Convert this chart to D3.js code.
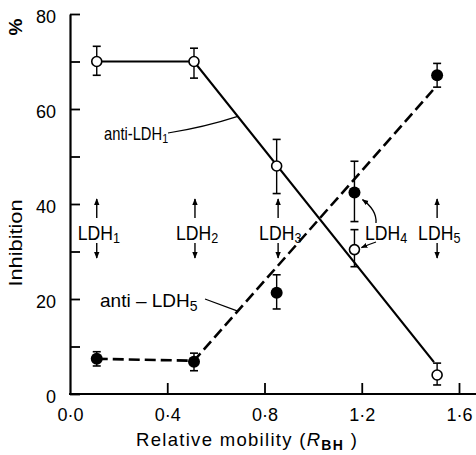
<!DOCTYPE html>
<html><head><meta charset="utf-8">
<script src="https://cdn.jsdelivr.net/npm/d3@7"></script>
<style>
html,body{margin:0;padding:0;background:#fff;}
svg{display:block;}
text{font-family:"Liberation Sans",Arial,Helvetica,sans-serif;fill:#000;}
</style></head>
<body>
<svg id="c" width="476" height="455"></svg>
<script>
// ---- data ----
const mobility = [0.11, 0.51, 0.85, 1.17, 1.51];          // R_BH of LDH1..LDH5
const antiLDH1 = [70, 70, 48, 30.4, 4.0];                 // open circles
const antiLDH1Hi = [73.2, 72.8, 53.6, 34.6, 6.5];
const antiLDH1Lo = [67.1, 66.5, 42.2, 26.8, 1.9];
const antiLDH5 = [7.4, 6.8, 21.3, 42.4, 67.1];            // filled circles
const antiLDH5Hi = [8.9, 8.6, 25.1, 49.0, 69.6];
const antiLDH5Lo = [5.9, 4.9, 17.9, 36.3, 64.6];
const fitLDH1X = [0.11, 0.51, 1.497];
const fitLDH1Y = [70, 70, 6.7];
const fitLDH5X = [0.11, 0.51, 1.493];
const fitLDH5Y = [7.4, 7.0, 64];
const isoNames = ["1", "2", "3", "4", "5"];
const isoArrowX = [0.11, 0.514, 0.856, null, 1.51];
const xTicks = [0, 0.4, 0.8, 1.2, 1.6];
const xTickLabels = ["0·0", "0·4", "0·8", "1·2", "1·6"];
const yTicks = [0, 10, 20, 30, 40, 50, 60, 70, 80];
const yTickLabels = ["0", "", "20", "", "40", "", "60", "", "80"];

const svg = d3.select("#c");
const x = d3.scaleLinear().domain([0, 1.6]).range([70, 459]);
const y = d3.scaleLinear().domain([0, 80]).range([394, 14]);

// axes
const yAxis = d3.axisLeft(y).tickValues(yTicks)
  .tickFormat((d, i) => yTickLabels[i]).tickSize(-10).tickSizeOuter(0).tickPadding(14);
const gy = svg.append("g").attr("transform", "translate(70,0)").call(yAxis);
gy.select(".domain").attr("stroke-width", 2.2);
gy.selectAll(".tick line").attr("stroke-width", 1.8);
gy.selectAll(".tick text").attr("font-size", 18).attr("dy", "0.45em");

const xAxis = d3.axisBottom(x).tickValues(xTicks)
  .tickFormat((d, i) => xTickLabels[i]).tickSize(-11).tickSizeOuter(0).tickPadding(14);
const gx = svg.append("g").attr("transform", "translate(0,394)").call(xAxis);
gx.select(".domain").remove();
gx.selectAll(".tick line").attr("stroke-width", 1.8).filter(d => d === 0).remove();
gx.selectAll(".tick text").attr("font-size", 18);
svg.append("line").attr("x1", x(0) - 1).attr("x2", 476).attr("y1", y(0)).attr("y2", y(0))
  .attr("stroke", "#000").attr("stroke-width", 2.2);

// axis titles
const xt = svg.append("text").attr("x", 136).attr("y", 446).attr("font-size", 18.5)
  .attr("letter-spacing", 1.3);
xt.append("tspan").text("Relative mobility  (");
xt.append("tspan").attr("font-style", "italic").text("R");
xt.append("tspan").attr("font-size", 14).attr("font-weight", "bold").attr("dy", 4).text("BH");
xt.append("tspan").attr("dy", -4).text(" )");

svg.append("text").attr("transform", "translate(22,243) rotate(-90)")
  .attr("text-anchor", "middle").attr("font-size", 19)
  .attr("textLength", 87).attr("lengthAdjust", "spacingAndGlyphs").text("Inhibition");
svg.append("text").attr("transform", "translate(22,27) rotate(-90)")
  .attr("text-anchor", "middle").attr("font-size", 19).attr("font-weight", "bold").text("%");

// fitted lines
const line = d3.line().x(d => x(d[0])).y(d => y(d[1]));
svg.append("path").datum(d3.zip(fitLDH1X, fitLDH1Y)).attr("d", line)
  .attr("fill", "none").attr("stroke", "#000").attr("stroke-width", 2.2);
svg.append("path").datum(d3.zip(fitLDH5X, fitLDH5Y)).attr("d", line)
  .attr("fill", "none").attr("stroke", "#000").attr("stroke-width", 2.6)
  .attr("stroke-dasharray", "11,5");

// error bars
function errBars(vals, hi, lo) {
  const g = svg.append("g").attr("stroke", "#000").attr("stroke-width", 1.4);
  mobility.forEach((m, i) => {
    g.append("line").attr("x1", x(m)).attr("x2", x(m)).attr("y1", y(hi[i])).attr("y2", y(lo[i]));
    [hi[i], lo[i]].forEach(v => g.append("line").attr("x1", x(m) - 4).attr("x2", x(m) + 4)
      .attr("y1", y(v)).attr("y2", y(v)).attr("stroke-width", 1.6));
  });
}
errBars(antiLDH1, antiLDH1Hi, antiLDH1Lo);
errBars(antiLDH5, antiLDH5Hi, antiLDH5Lo);

// points
svg.append("g").selectAll("circle").data(mobility).join("circle")
  .attr("cx", d => x(d)).attr("cy", (d, i) => y(antiLDH1[i])).attr("r", 5)
  .attr("fill", "#fff").attr("stroke", "#000").attr("stroke-width", 1.6);
svg.append("g").selectAll("circle").data(mobility).join("circle")
  .attr("cx", d => x(d)).attr("cy", (d, i) => y(antiLDH5[i])).attr("r", 6)
  .attr("fill", "#000");

// helper: y on a fit line at mobility m (second segment)
function fitAt(fx, fy, m) { return fy[1] + (m - fx[1]) * (fy[2] - fy[1]) / (fx[2] - fx[1]); }

// series labels with leaders
const l1 = svg.append("text").attr("transform", "translate(104,140) scale(0.82,1)").attr("font-size", 18);
l1.append("tspan").text("anti-LDH");
l1.append("tspan").attr("font-size", 13).attr("dy", 3).text("1");
svg.append("path").attr("d", `M168,133 Q205,127 ${x(0.69)},${y(fitAt(fitLDH1X, fitLDH1Y, 0.69))}`)
  .attr("fill", "none").attr("stroke", "#000").attr("stroke-width", 1.2);

const l5 = svg.append("text").attr("x", 100).attr("y", 307).attr("font-size", 19);
l5.append("tspan").text("anti – LDH");
l5.append("tspan").attr("font-size", 14).attr("dy", 4).text("5");
svg.append("path").attr("d", `M205,299 L${x(0.69)},${y(fitAt(fitLDH5X, fitLDH5Y, 0.69))}`)
  .attr("fill", "none").attr("stroke", "#000").attr("stroke-width", 1.2);

// isoenzyme labels with arrows
const defs = svg.append("defs");
defs.append("marker").attr("id", "ah").attr("viewBox", "0 0 10 10").attr("refX", 9).attr("refY", 5)
  .attr("markerWidth", 5).attr("markerHeight", 5).attr("orient", "auto")
  .append("path").attr("d", "M0,1 L10,5 L0,9 Z").attr("fill", "#000");

isoNames.forEach((n, i) => {
  const ax = isoArrowX[i];
  const tx = ax === null ? 365 : x(ax) - 19;
  const t = svg.append("text").attr("transform", `translate(${tx},240) scale(0.84,1)`).attr("font-size", 21);
  t.append("tspan").text("LDH");
  t.append("tspan").attr("font-size", 15).attr("dy", 3).text(n);
  if (ax !== null) {
    svg.append("line").attr("x1", x(ax)).attr("x2", x(ax)).attr("y1", 218).attr("y2", 199)
      .attr("stroke", "#000").attr("stroke-width", 1.4).attr("marker-end", "url(#ah)");
    svg.append("line").attr("x1", x(ax)).attr("x2", x(ax)).attr("y1", 243).attr("y2", 258)
      .attr("stroke", "#000").attr("stroke-width", 1.4).attr("marker-end", "url(#ah)");
  }
});
// curved arrows from LDH4 label to its two points
svg.append("path").attr("d", `M376,223 Q377,210 ${x(mobility[3]) + 8},${y(antiLDH5[3]) + 7}`)
  .attr("fill", "none").attr("stroke", "#000").attr("stroke-width", 1.3).attr("marker-end", "url(#ah)");
svg.append("path").attr("d", `M376,242 Q370,244 ${x(mobility[3]) + 7},${y(antiLDH1[3]) - 2}`)
  .attr("fill", "none").attr("stroke", "#000").attr("stroke-width", 1.3).attr("marker-end", "url(#ah)");
</script>
</body></html>
